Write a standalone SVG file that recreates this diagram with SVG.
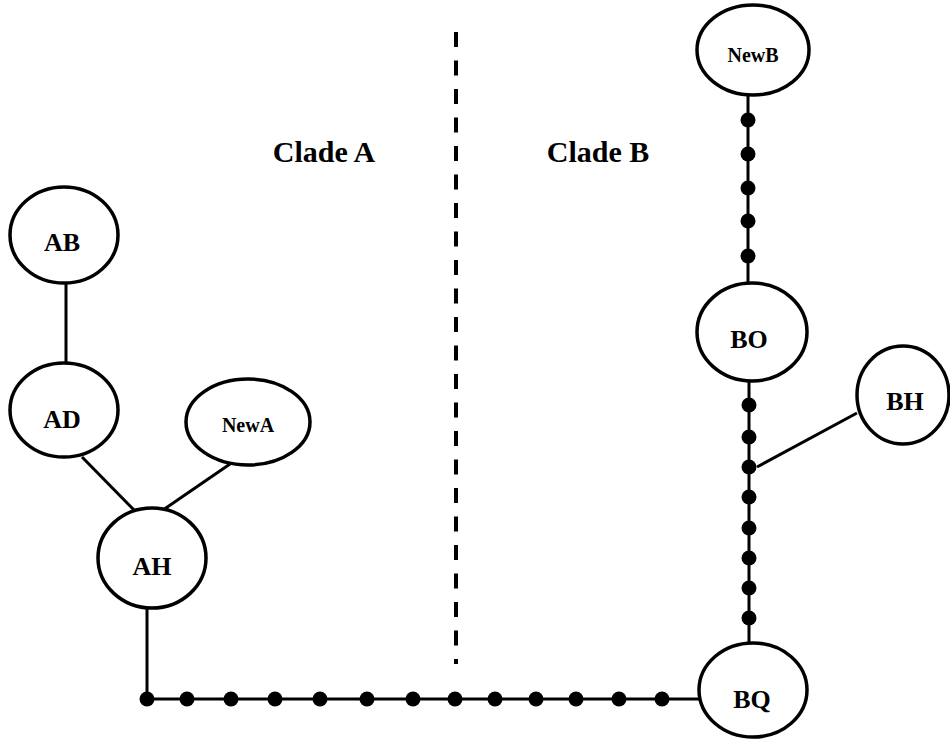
<svg xmlns="http://www.w3.org/2000/svg" width="950" height="743" viewBox="0 0 950 743">
<style>
.node ellipse{fill:#fff;stroke:#000;stroke-width:3.5}
.node text{font-family:'Liberation Serif',serif;font-weight:bold;font-size:26px;text-anchor:middle;fill:#000}
.node text.small{font-size:20px}
.edge{stroke:#000;stroke-width:3;fill:none}
.dot{fill:#000}
.clade{font-family:'Liberation Serif',serif;font-weight:bold;font-size:30px;text-anchor:middle;fill:#000}
</style>
<rect width="950" height="743" fill="#fff"/>
<line x1="456" y1="32" x2="456" y2="664" stroke="#000" stroke-width="4" stroke-dasharray="15 13.5"/>
<text class="clade" x="324" y="162">Clade A</text>
<text class="clade" x="598" y="162">Clade B</text>
<g id="connectors">
<line class="edge" x1="66" y1="283" x2="66" y2="363"/>
<line class="edge" x1="82" y1="457" x2="135" y2="511"/>
<line class="edge" x1="230" y1="464" x2="163" y2="510"/>
<polyline class="edge" points="147,608 147,699 700,699"/>
<line class="edge" x1="748" y1="95" x2="748" y2="283"/>
<line class="edge" x1="749" y1="381" x2="749" y2="643"/>
<line class="edge" x1="857" y1="413" x2="757" y2="467"/>
<g class="dot">
<circle cx="147" cy="699" r="7.5"/><circle cx="187" cy="699" r="7.5"/><circle cx="231" cy="699" r="7.5"/><circle cx="275" cy="699" r="7.5"/><circle cx="320" cy="699" r="7.5"/><circle cx="367" cy="699" r="7.5"/><circle cx="413" cy="699" r="7.5"/><circle cx="455" cy="699" r="7.5"/><circle cx="495" cy="699" r="7.5"/><circle cx="536" cy="699" r="7.5"/><circle cx="576" cy="699" r="7.5"/><circle cx="619" cy="699" r="7.5"/><circle cx="662" cy="699" r="7.5"/>
<circle cx="748" cy="120" r="7.5"/><circle cx="748" cy="154" r="7.5"/><circle cx="748" cy="188" r="7.5"/><circle cx="748" cy="221" r="7.5"/><circle cx="748" cy="256" r="7.5"/>
<circle cx="749" cy="405" r="7.5"/><circle cx="749" cy="437" r="7.5"/><circle cx="749" cy="467" r="7.5"/><circle cx="749" cy="497" r="7.5"/><circle cx="749" cy="528" r="7.5"/><circle cx="749" cy="558" r="7.5"/><circle cx="749" cy="588" r="7.5"/><circle cx="749" cy="618" r="7.5"/>
</g>
</g>
<g id="AB" class="node"><ellipse cx="64" cy="235" rx="54" ry="48"/><text x="62" y="251">AB</text></g>
<g id="AD" class="node"><ellipse cx="64" cy="410" rx="54" ry="47"/><text x="62" y="428">AD</text></g>
<g id="NewA" class="node"><ellipse cx="248" cy="422" rx="62" ry="43"/><text class="small" x="248" y="432">NewA</text></g>
<g id="AH" class="node"><ellipse cx="152" cy="558" rx="54" ry="50"/><text x="152" y="575">AH</text></g>
<g id="NewB" class="node"><ellipse cx="753" cy="50" rx="56" ry="45"/><text class="small" x="753" y="62">NewB</text></g>
<g id="BO" class="node"><ellipse cx="752" cy="332" rx="55" ry="49"/><text x="749" y="348">BO</text></g>
<g id="BH" class="node"><ellipse cx="903" cy="395" rx="46" ry="49"/><text x="905" y="410">BH</text></g>
<g id="BQ" class="node"><ellipse cx="753" cy="690" rx="54" ry="47"/><text x="752" y="708">BQ</text></g>
</svg>
